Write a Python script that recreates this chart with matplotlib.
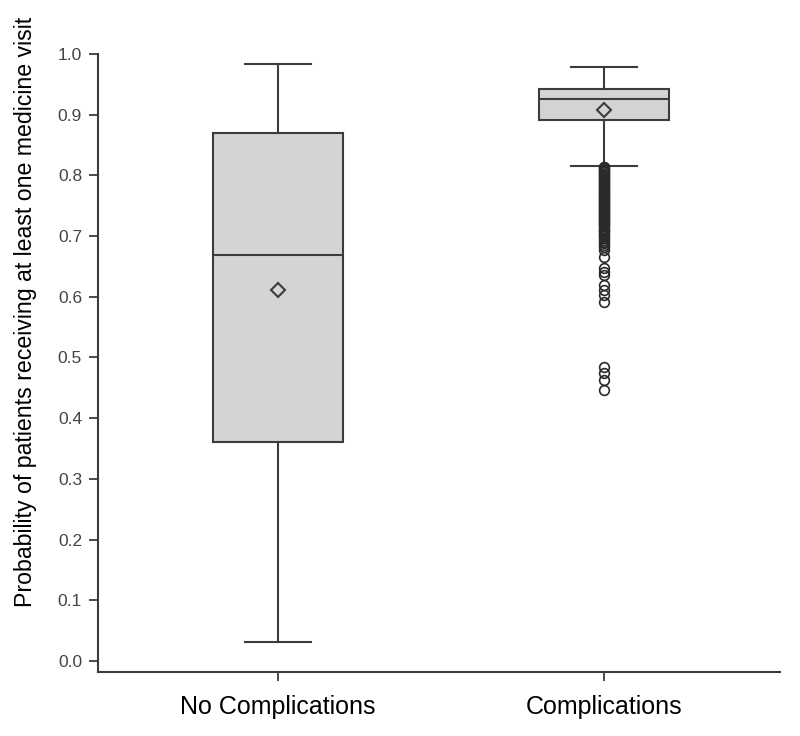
import matplotlib
matplotlib.use("Agg")
import matplotlib.pyplot as plt

plt.rcParams['font.family'] = ['Liberation Sans', 'DejaVu Sans']

groups = ["No Complications", "Complications"]
whis_lo = [0.031, 0.815]
q1 = [0.361, 0.891]
med = [0.669, 0.926]
q3 = [0.870, 0.942]
whis_hi = [0.983, 0.979]
means = [0.611, 0.908]
fliers = [
    [],
    [0.814, 0.813, 0.811, 0.810, 0.808, 0.806, 0.805, 0.803, 0.801, 0.800,
     0.798, 0.796, 0.795, 0.793, 0.791, 0.790, 0.788, 0.786, 0.785, 0.783,
     0.781, 0.780, 0.778, 0.776, 0.775, 0.773, 0.771, 0.770, 0.768, 0.766,
     0.765, 0.763, 0.761, 0.760, 0.758, 0.756, 0.755, 0.753, 0.751, 0.750,
     0.748, 0.746, 0.745, 0.743, 0.741, 0.740, 0.738, 0.736, 0.735, 0.733,
     0.731, 0.730, 0.728, 0.726, 0.725, 0.723, 0.721, 0.720, 0.718, 0.716,
     0.714, 0.712, 0.710, 0.708, 0.706, 0.704, 0.702, 0.700, 0.697, 0.694,
     0.691, 0.688, 0.685, 0.682, 0.677, 0.666, 0.648, 0.641, 0.636, 0.619,
     0.611, 0.603, 0.591, 0.484, 0.474, 0.463, 0.446],
]
ylabel = "Probability of patients receiving at least one medicine visit"

stats = []
for i in range(len(groups)):
    stats.append(dict(label=groups[i], whislo=whis_lo[i], q1=q1[i], med=med[i],
                      q3=q3[i], whishi=whis_hi[i], mean=means[i], fliers=fliers[i]))

edge = "#3c3c3c"
fig = plt.figure(figsize=(8, 7.36), dpi=100)
ax = fig.add_axes([0.1225, 0.087, 0.8525, 0.8397])

ax.bxp(stats, positions=[1, 2], widths=0.4, capwidths=0.2, showmeans=True,
       patch_artist=True,
       boxprops=dict(facecolor="#d4d4d4", edgecolor=edge, linewidth=1.5),
       medianprops=dict(color=edge, linewidth=1.5),
       whiskerprops=dict(color=edge, linewidth=1.5),
       capprops=dict(color=edge, linewidth=1.5),
       meanprops=dict(marker="D", markerfacecolor="none", markeredgecolor=edge,
                      markeredgewidth=1.5, markersize=7),
       flierprops=dict(marker="o", markerfacecolor="none", markeredgecolor="#2a2a2a",
                       markeredgewidth=1.2, markersize=7))

ax.set_xlim(0.448, 2.54)
ax.set_ylim(-0.018, 1.0)
ax.set_yticks([i / 10 for i in range(11)])
ax.set_yticklabels([f"{i / 10:.1f}" for i in range(11)])
ax.set_xticks([1, 2])
ax.set_xticklabels(groups, fontsize=18)
ax.tick_params(axis="y", labelsize=12.5, labelcolor="#444444", length=6.5, width=1.3, color=edge, pad=5)
ax.tick_params(axis="x", length=6.5, width=1.3, color=edge, pad=10)
for s in ["top", "right"]:
    ax.spines[s].set_visible(False)
for s in ["left", "bottom"]:
    ax.spines[s].set_color(edge)
    ax.spines[s].set_linewidth(1.5)
ax.set_ylabel(ylabel, fontsize=16.7)
ax.yaxis.set_label_coords(-0.09, 0.583)

fig.savefig("out.png", dpi=100)
